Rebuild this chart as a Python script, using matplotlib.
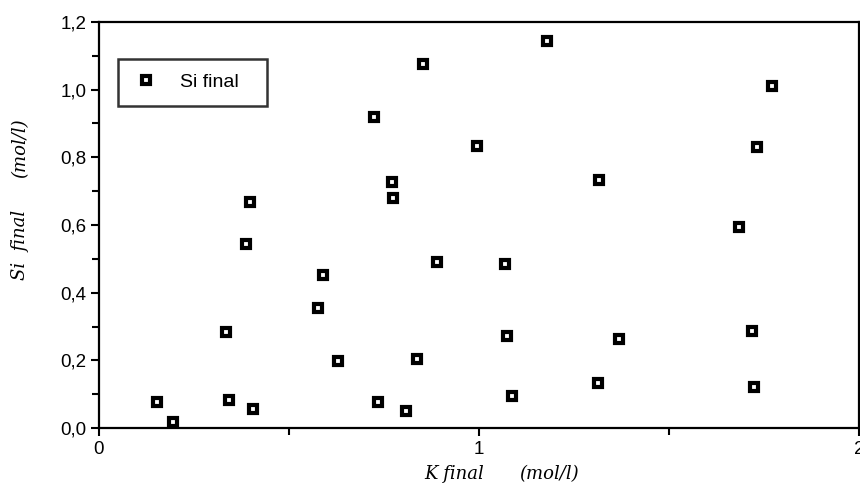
import matplotlib
matplotlib.use("Agg")
import matplotlib.pyplot as plt
from matplotlib.ticker import MultipleLocator, FuncFormatter

k_final = [0.152, 0.194, 0.333, 0.343, 0.404, 0.386, 0.397, 0.589, 0.576, 0.630,
           0.724, 0.735, 0.771, 0.773, 0.807, 0.836, 0.853, 0.890, 0.996, 1.068,
           1.074, 1.087, 1.180, 1.313, 1.316, 1.368, 1.684, 1.719, 1.724, 1.732, 1.772]
si_final = [0.077, 0.017, 0.283, 0.082, 0.057, 0.543, 0.668, 0.451, 0.354, 0.199,
            0.919, 0.076, 0.726, 0.681, 0.049, 0.205, 1.076, 0.490, 0.834, 0.484,
            0.272, 0.095, 1.143, 0.134, 0.734, 0.264, 0.594, 0.288, 0.120, 0.831, 1.011]
series_name = "Si final"

W, H = 860, 493
fig = plt.figure(figsize=(W / 100, H / 100), dpi=100)
ax = fig.add_axes([99 / W, 1 - 428 / H, 760 / W, 406 / H])

ax.plot(k_final, si_final, linestyle="none", marker="s", markersize=6.0,
        markerfacecolor="white", markeredgecolor="black", markeredgewidth=3.0,
        label=series_name, clip_on=False)

ax.set_xlim(0, 2)
ax.set_ylim(0, 1.2)
ax.xaxis.set_major_locator(MultipleLocator(1))
ax.xaxis.set_minor_locator(MultipleLocator(0.5))
ax.yaxis.set_major_locator(MultipleLocator(0.2))
ax.yaxis.set_minor_locator(MultipleLocator(0.1))
ax.xaxis.set_major_formatter(FuncFormatter(lambda v, p: f"{v:.0f}"))
ax.yaxis.set_major_formatter(FuncFormatter(lambda v, p: f"{v:.1f}".replace(".", ",")))

for s in ax.spines.values():
    s.set_linewidth(1.6)
ax.tick_params(which="major", direction="out", length=6, width=1.5,
               labelsize=13.5, pad=3)
ax.tick_params(which="minor", direction="out", length=5, width=1.5)
for lab in ax.get_xticklabels() + ax.get_yticklabels():
    lab.set_fontfamily("Liberation Sans")

leg = ax.legend(loc="upper left", bbox_to_anchor=(0.025, 0.70, 0.196, 0.209),
                mode="expand", borderaxespad=0,
                frameon=True, fancybox=False, handlelength=1.35,
                handletextpad=1.1, borderpad=0.75,
                prop={"family": "Liberation Sans", "size": 14})
leg.get_frame().set_edgecolor("black")
leg.get_frame().set_linewidth(1.8)

lab_font = dict(family="DejaVu Serif", style="italic", size=13)
fig.text(454 / W, 1 - 474 / H, "K final", ha="center", va="center", **lab_font)
fig.text(549 / W, 1 - 474 / H, "(mol/l)", ha="center", va="center", **lab_font)
fig.text(20 / W, 1 - 245 / H, "Si  final", ha="center", va="center", rotation=90, **lab_font)
fig.text(20 / W, 1 - 148 / H, "(mol/l)", ha="center", va="center", rotation=90, **lab_font)

fig.savefig("out.png", dpi=100)
